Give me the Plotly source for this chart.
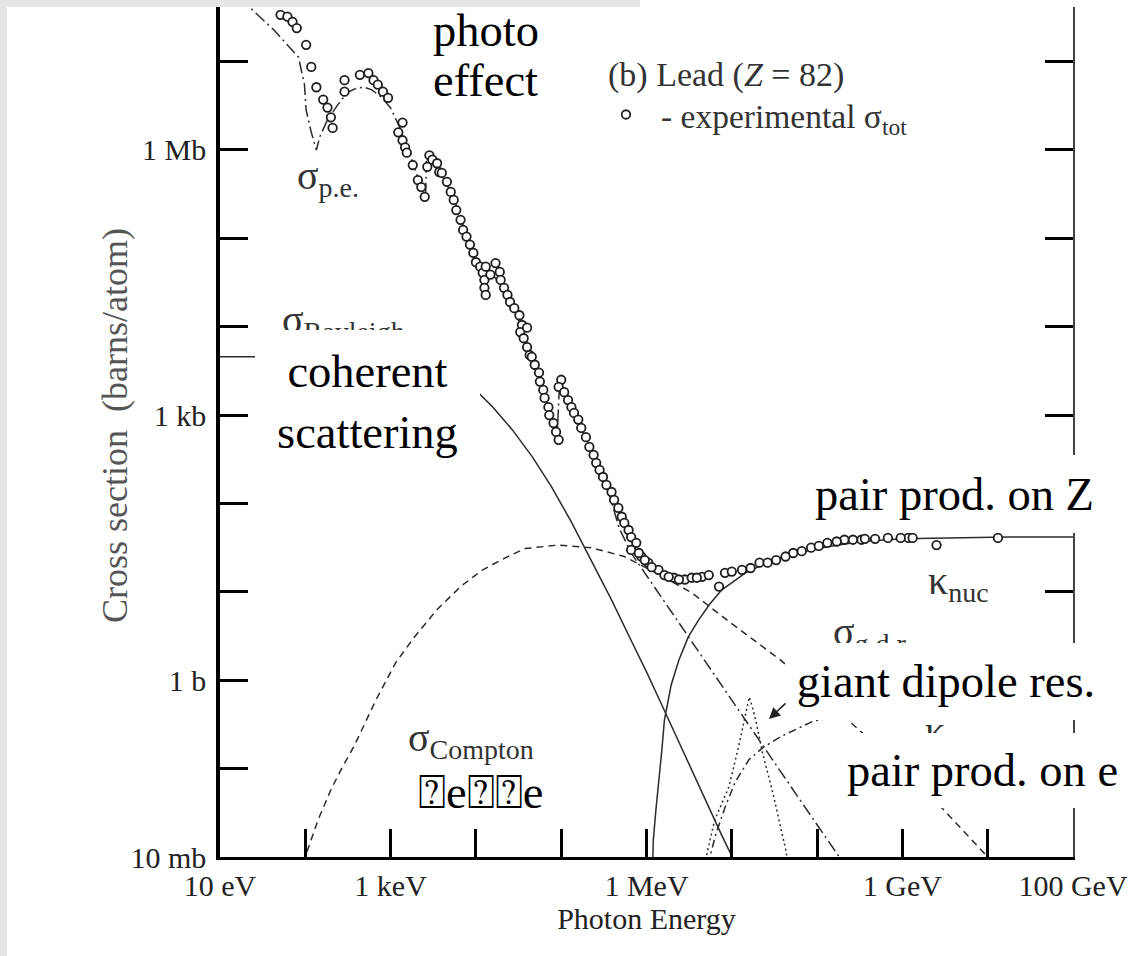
import plotly.graph_objects as go

# ---------------- values ----------------
# energies stored as log10(E / eV), cross sections as log10(sigma / barn)

# experimental total cross section (open circles)
exp_log_E = [1.71, 1.79, 1.85, 1.90, 2.01, 2.07, 2.13, 2.21, 2.26, 2.30, 2.32, 2.46, 2.46,
             2.64, 2.74, 2.80, 2.85, 2.91, 2.97, 3.14, 3.09, 3.14, 3.17, 3.19, 3.26, 3.32,
             3.36, 3.40, 3.455, 3.49, 3.43, 3.545, 3.57, 3.60, 3.66, 3.705, 3.74, 3.77,
             3.82, 3.85, 3.89, 3.93, 3.97, 4.00, 4.05, 4.08, 4.10, 4.10, 4.115, 4.115,
             4.17, 4.23, 4.28, 4.29, 4.33, 4.37, 4.40, 4.45, 4.51, 4.54, 4.52, 4.60, 4.56,
             4.60, 4.63, 4.655, 4.69, 4.74, 4.75, 4.79, 4.805, 4.85, 4.86, 4.91, 4.94,
             4.97, 5.00, 4.97, 5.035, 5.08, 5.12, 5.15, 5.20, 5.235, 5.29, 5.33, 5.38,
             5.41, 5.45, 5.49, 5.53, 5.59, 5.62, 5.67, 5.71, 5.74, 5.79, 5.82, 5.88, 5.94,
             6.02, 6.14, 6.21, 6.32, 6.45, 6.53, 6.65, 6.85, 6.92, 7.12, 7.325, 7.52,
             7.72, 7.93, 8.12, 8.32, 8.52, 8.68, 8.83, 9.07, 9.40, 10.12,
             5.82, 5.91, 5.98, 6.06, 6.26, 6.38, 6.59, 6.73, 7.00, 7.22, 7.42, 7.63,
             7.82, 8.02, 8.23, 8.42, 8.56, 8.98, 9.12]
exp_log_sigma = [7.53, 7.51, 7.45, 7.38, 7.19, 6.94, 6.71, 6.57, 6.48, 6.37, 6.25, 6.66, 6.79,
                 6.85, 6.87, 6.79, 6.74, 6.66, 6.59, 6.31, 6.20, 6.11, 6.03, 5.97, 5.83, 5.66,
                 5.58, 5.47, 5.94, 5.89, 5.81, 5.85, 5.75, 5.74, 5.64, 5.525, 5.435, 5.32,
                 5.21, 5.095, 5.02, 4.93, 4.835, 4.73, 4.68, 4.61, 4.53, 4.44, 4.36, 4.68,
                 4.59, 4.72, 4.62, 4.53, 4.44, 4.36, 4.28, 4.21, 4.13, 4.02, 3.94, 3.99, 3.87,
                 3.77, 3.68, 3.66, 3.57, 3.48, 3.38, 3.285, 3.195, 3.09, 3.00, 2.91, 2.81,
                 2.72, 3.40, 3.32, 3.26, 3.17, 3.09, 3.025, 2.95, 2.855, 2.75, 2.64, 2.55,
                 2.46, 2.38, 2.30, 2.21, 2.13, 2.04, 1.95, 1.85, 1.78, 1.70, 1.62, 1.555, 1.40,
                 1.33, 1.25, 1.19, 1.16, 1.14, 1.16, 1.17, 1.06, 1.215, 1.25, 1.33, 1.36,
                 1.44, 1.50, 1.555, 1.59, 1.59, 1.60, 1.61, 1.61, 1.53, 1.61,
                 1.475, 1.44, 1.36, 1.28, 1.17, 1.14, 1.16, 1.19, 1.23, 1.27, 1.33, 1.40,
                 1.46, 1.52, 1.57, 1.59, 1.60, 1.61, 1.61]

# sigma_p.e. (photoelectric)
pe_log_E = [1.23, 1.63, 1.92, 1.99, 2.01, 2.07, 2.13, 2.17, 2.26, 2.38, 2.49, 2.60, 2.69, 2.78,
            2.89, 3.00, 3.11, 3.23, 3.34, 3.41, 3.42, 3.57, 3.74, 3.91, 4.08, 4.10, 4.11,
            4.31, 4.54, 4.77, 4.95, 4.98, 5.24, 5.41, 5.565, 5.68, 5.82, 6.06, 6.53, 7.0,
            7.48, 7.96, 8.26, 8.32]
pe_log_sigma = [7.72, 7.36, 7.05, 6.74, 6.45, 6.20, 6.00, 6.15, 6.34, 6.51, 6.65, 6.70, 6.71,
                6.68, 6.60, 6.475, 6.25, 5.94, 5.63, 5.46, 5.89, 5.77, 5.46, 4.98, 4.56, 4.39,
                4.67, 4.47, 3.99, 3.34, 2.70, 3.36, 2.84, 2.49, 2.10, 1.72, 1.44, 1.10, 0.435,
                -0.23, -0.90, -1.58, -2.0, -2.09]

# sigma_Rayleigh (coherent scattering)
ray_log_E = [1.0, 1.46, 1.92, 2.375, 2.83, 3.28, 3.625, 3.85, 3.97, 4.20, 4.43, 4.66, 4.885,
             5.12, 5.35, 5.59, 5.82, 6.0, 6.18, 6.41, 6.65, 6.88, 7.02]
ray_log_sigma = [3.66, 3.66, 3.65, 3.625, 3.58, 3.51, 3.42, 3.35, 3.31, 3.09, 2.83, 2.53, 2.19,
                 1.79, 1.36, 0.91, 0.45, 0.095, -0.28, -0.765, -1.26, -1.75, -2.03]

# sigma_Compton
comp_log_E = [2.02, 2.15, 2.30, 2.43, 2.57, 2.83, 3.06, 3.28, 3.545, 3.82, 4.08, 4.345, 4.575,
              4.97, 5.35, 5.74, 6.14, 6.53, 7.0, 7.57, 8.0, 8.56, 9.0, 9.43, 10.0]
comp_log_sigma = [-1.94, -1.58, -1.24, -0.99, -0.75, -0.22, 0.20, 0.49, 0.80, 1.06, 1.25, 1.385,
                  1.49, 1.53, 1.50, 1.40, 1.20, 0.99, 0.64, 0.23, -0.13, -0.62, -1.01, -1.41, -2.0]

# kappa_nuc (pair production, nuclear field)
knuc_log_E = [6.07, 6.08, 6.11, 6.14, 6.18, 6.21, 6.29, 6.38, 6.49, 6.61, 6.74, 6.88, 7.16,
              7.48, 7.72, 8.12, 8.52, 9.0, 9.64, 10.24, 11.0]
knuc_log_sigma = [-2.14, -1.81, -1.47, -1.21, -0.79, -0.45, -0.05, 0.23, 0.49, 0.68, 0.86, 1.02,
                  1.215, 1.36, 1.43, 1.51, 1.57, 1.60, 1.61, 1.62, 1.62]

# kappa_e (pair production, electron field)
ke_log_E = [6.72, 6.81, 6.92, 7.04, 7.20, 7.36, 7.57, 7.81, 7.96, 8.32, 8.92, 9.64, 10.36, 11.0]
ke_log_sigma = [-2.09, -1.75, -1.44, -1.15, -0.90, -0.765, -0.64, -0.53, -0.46, -0.40, -0.35,
                -0.31, -0.29, -0.28]

# sigma_g.d.r. (giant dipole resonance)
gdr_log_E = [6.69, 6.71, 6.80, 6.965, 7.08, 7.16, 7.205, 7.24, 7.28, 7.36, 7.48, 7.64, 7.65]
gdr_log_sigma = [-2.09, -1.95, -1.58, -1.21, -0.75, -0.37, -0.19, -0.30, -0.45, -0.82, -1.27,
                 -1.95, -2.09]

# axis ticks
x_tick_exp = list(range(1, 12))
x_tick_text = ['10 eV', '', '1 keV', '', '', '1 MeV', '', '', '1 GeV', '', '100 GeV']
y_tick_exp = list(range(-2, 8))
y_tick_text = ['10 mb', '', '1 b', '', '', '1 kb', '', '', '1 Mb', '']

# ---------------- layout helpers ----------------
W, H = 1145, 956
L, R, T, B = 220, 1073, 7, 857
SERIF = 'Liberation Serif, Times New Roman, serif'


def xp(px):
    return (px - L) / (R - L)


def yp(py):
    return (B - py) / (B - T)


def pw(v):
    return [10 ** a for a in v]


LINE_C = '#2b2b2b'
fig = go.Figure()


def curve(xs, ys, dash, name):
    fig.add_trace(go.Scatter(x=pw(xs), y=pw(ys), mode='lines', name=name, showlegend=False,
                             line=dict(color=LINE_C, width=1.5, dash=dash), hoverinfo='skip'))


curve(ray_log_E, ray_log_sigma, 'solid', 'sigma Rayleigh')
curve(comp_log_E, comp_log_sigma, '7px,5px', 'sigma Compton')
curve(pe_log_E, pe_log_sigma, '12px,4px,2px,4px', 'sigma p.e.')
curve(knuc_log_E, knuc_log_sigma, 'solid', 'kappa nuc')
curve(ke_log_E, ke_log_sigma, '8px,4px,2px,4px', 'kappa e')
curve(gdr_log_E, gdr_log_sigma, '2px,3px', 'sigma g.d.r.')

fig.add_trace(go.Scatter(
    x=pw(exp_log_E), y=pw(exp_log_sigma), mode='markers',
    name='\u00a0\u2009- experimental σ<sub>tot</sub>',
    marker=dict(symbol='circle', size=8.5, color='white', line=dict(color='#1e1e1e', width=1.8)),
    showlegend=True))

# invisible trace to carry the mirrored right axis
fig.add_trace(go.Scatter(x=[10], y=[1], yaxis='y2', mode='lines', showlegend=False,
                         hoverinfo='skip'))

tick_font = dict(family=SERIF, size=30, color='#222')

fig.update_layout(
    width=W, height=H, autosize=False,
    margin=dict(l=L, r=W - R, t=T, b=H - B, pad=0),
    paper_bgcolor='white', plot_bgcolor='white',
    font=dict(family=SERIF, color='#222'),
    xaxis=dict(type='log', range=[1, 11], showgrid=False, zeroline=False,
               showline=True, linecolor='black', linewidth=3,
               ticks='inside', ticklen=28, tickwidth=2.5, tickcolor='black',
               tickvals=[10 ** k for k in x_tick_exp], ticktext=x_tick_text,
               tickfont=tick_font, ticklabelstandoff=0, automargin=False,
               title=dict(text='Photon Energy', font=dict(family=SERIF, size=30, color='#222'),
                          standoff=2)),
    yaxis=dict(type='log', range=[-2, 7.618], showgrid=False, zeroline=False,
               showline=True, linecolor='black', linewidth=3.5,
               ticks='inside', ticklen=28, tickwidth=3, tickcolor='black',
               tickvals=[10 ** k for k in y_tick_exp], ticktext=y_tick_text,
               tickfont=tick_font, ticklabelstandoff=4, automargin=False),
    yaxis2=dict(type='log', range=[-2, 7.618], overlaying='y', side='right',
                showgrid=False, zeroline=False, showline=True, linecolor='#444', linewidth=2,
                ticks='inside', ticklen=28, tickwidth=3, tickcolor='black',
                tickvals=[10 ** k for k in y_tick_exp], showticklabels=False,
                automargin=False),
    legend=dict(x=xp(606), y=yp(42), xanchor='left', yanchor='top',
                bgcolor='rgba(0,0,0,0)', borderwidth=0,
                font=dict(family=SERIF, size=33.5, color='#333'),
                title=dict(text='(b) Lead (<i>Z</i> = 82)',
                           font=dict(family=SERIF, size=34, color='#333'))),
    showlegend=True,
)

# y-axis title
fig.add_annotation(text='Cross section \u00a0(barns/atom)', textangle=-90,
                   x=xp(115), y=yp(426), xref='paper', yref='paper',
                   xanchor='center', yanchor='middle', showarrow=False,
                   font=dict(family=SERIF, size=36, color='#555'))

# light grey strips of the screenshot frame
fig.add_shape(type='rect', xref='paper', yref='paper', x0=xp(0), x1=xp(7), y0=yp(H), y1=yp(0),
              fillcolor='#e6e6e6', line_width=0, layer='below')
fig.add_shape(type='rect', xref='paper', yref='paper', x0=xp(0), x1=xp(640), y0=yp(7), y1=yp(0),
              fillcolor='#e6e6e6', line_width=0, layer='below')

LABEL_FONT = dict(family=SERIF, size=40, color='#333')
BIG_FONT = dict(family=SERIF, size=46.5, color='black')


def label(text, px, py, font=LABEL_FONT, xanchor='left', yanchor='middle'):
    fig.add_annotation(text=text, x=xp(px), y=yp(py), xref='paper', yref='paper',
                       xanchor=xanchor, yanchor=yanchor, showarrow=False, font=font)


# labels from the original figure
label('σ<sub>p.e.</sub>', 295, 178)
label('σ<sub>Rayleigh</sub>', 280, 322)
label('σ<sub>Compton</sub>', 406, 740)
label('κ<sub>nuc</sub>', 926, 583)
label('σ<sub>g.d.r.</sub>', 831, 634)
label('κ<sub>e</sub>', 923, 733)

# slide overlay texts
label('photo', 431, 31, font=BIG_FONT)
label('effect', 431, 81, font=BIG_FONT)
label('\u2370e\u2370\u2370e', 416, 792, font=BIG_FONT)


def box(text, x0, x1, y0, y1):
    fig.add_annotation(text=text, x=xp(x0), y=yp(y0), xref='paper', yref='paper',
                       xanchor='left', yanchor='top', showarrow=False, font=BIG_FONT,
                       width=x1 - x0, height=y1 - y0, bgcolor='white', borderpad=0,
                       borderwidth=0, align='center', valign='middle')


box('coherent<br>scattering', 255, 480, 330, 474)
box('pair prod. on Z', 805, 1104, 455, 533)
box('giant dipole res.', 785, 1107, 643, 720)
box('pair prod. on e', 835, 1130, 733, 808)

# arrow pointing to the giant dipole resonance peak
fig.add_annotation(x=xp(769), y=yp(719), ax=18, ay=-17, xref='paper', yref='paper',
                   axref='pixel', ayref='pixel', text='', showarrow=True, arrowhead=2,
                   arrowsize=1.4, arrowwidth=1.6, arrowcolor='#222')

fig.write_html('out.html', config={'displayModeBar': False})
